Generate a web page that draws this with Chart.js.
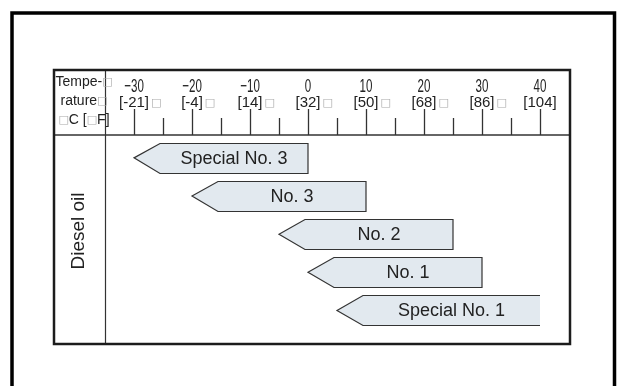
<!DOCTYPE html>
<html>
<head>
<meta charset="utf-8">
<script src="https://cdn.jsdelivr.net/npm/chart.js@4"></script>
<style>
  html, body { margin: 0; padding: 0; background: #fff; }
  #wrap { width: 617px; height: 386px; position: relative; }
</style>
</head>
<body>
<div id="wrap"><canvas id="fuelChart"></canvas></div>
<script>
// Diesel oil grades and the temperature range (°C) each one covers
const grades = ['Special No. 3', 'No. 3', 'No. 2', 'No. 1', 'Special No. 1'];
const rangeStart = [-30, -20, -5, 0, 5];
const rangeEnd = [0, 10, 25, 30, 40];

// header scale
const celsiusTicks = [-30, -20, -10, 0, 10, 20, 30, 40];
const fahrenheitLabels = ['[-21]', '[-4]', '[14]', '[32]', '[50]', '[68]', '[86]', '[104]'];
const minorTicks = [-25, -15, -5, 5, 15, 25, 35];
const headerLines = ['Tempe-□', 'rature□', '□C [□F]'];
const rowTitle = 'Diesel oil';

const TEXT = '#222';
const FONT = '"Liberation Sans", Arial, sans-serif';

// draws text where the □ boxes are shown grey, centred on cx
function drawMixed(ctx, text, cx, y, size) {
    const parts = text.split(/(□)/).filter(p => p.length);
    const fontFor = p => p === '□' ? (size - 3) + 'px "DejaVu Sans"' : size + 'px ' + FONT;
    let total = 0;
    parts.forEach(p => { ctx.font = fontFor(p); total += ctx.measureText(p).width; });
    let x = cx - total / 2;
    ctx.textAlign = 'left';
    parts.forEach(p => {
        ctx.font = fontFor(p);
        ctx.fillStyle = p === '□' ? '#aaa' : TEXT;
        ctx.fillText(p, x, y);
        x += ctx.measureText(p).width;
    });
}

function line(ctx, x1, y1, x2, y2) {
    ctx.beginPath();
    ctx.moveTo(x1, y1);
    ctx.lineTo(x2, y2);
    ctx.stroke();
}

const frameBox = {
    id: 'frameBox',
    beforeDraw(chart) {
        const { ctx, chartArea: a, scales: { x } } = chart;
        const boxLeft = a.left - 51, boxTop = a.top - 65;
        ctx.save();
        ctx.fillStyle = '#fff';
        ctx.fillRect(0, 0, chart.width, chart.height);

        // outer frame, open at the bottom
        ctx.strokeStyle = '#000';
        ctx.lineWidth = 3.5;
        ctx.beginPath();
        ctx.moveTo(12, chart.height + 5);
        ctx.lineTo(12, 13);
        ctx.lineTo(614.5, 13);
        ctx.lineTo(614.5, chart.height + 5);
        ctx.stroke();

        // table lines
        ctx.strokeStyle = '#333';
        ctx.lineWidth = 1.2;
        line(ctx, a.left + 0.5, boxTop, a.left + 0.5, a.bottom);
        ctx.lineWidth = 1.5;
        line(ctx, boxLeft, a.top, a.right, a.top);

        ctx.lineWidth = 1.3;
        celsiusTicks.forEach(v => {
            const px = Math.round(x.getPixelForValue(v)) + 0.5;
            line(ctx, px, a.top - 26, px, a.top);
        });
        minorTicks.forEach(v => {
            const px = Math.round(x.getPixelForValue(v)) + 0.5;
            line(ctx, px, a.top - 17, px, a.top);
        });

        ctx.lineWidth = 2.5;
        ctx.strokeStyle = '#1c1c1c';
        ctx.strokeRect(boxLeft, boxTop, a.right + 1 - boxLeft, a.bottom - boxTop);

        // tick labels: °C in a narrow face, °F in brackets below
        ctx.textBaseline = 'middle';
        celsiusTicks.forEach((v, i) => {
            const px = x.getPixelForValue(v);
            ctx.save();
            ctx.translate(px, a.top - 48);
            ctx.scale(0.68, 1.08);
            ctx.font = '17px ' + FONT;
            ctx.fillStyle = TEXT;
            ctx.textAlign = 'center';
            ctx.fillText(String(v).replace('-', '\u2212'), 0, 0);
            ctx.restore();

            const lab = fahrenheitLabels[i];
            ctx.font = '15px ' + FONT;
            ctx.textAlign = 'center';
            ctx.fillStyle = TEXT;
            ctx.fillText(lab, px, a.top - 32);
            if (i < celsiusTicks.length - 1) {
                const w = ctx.measureText(lab).width;
                ctx.font = '11px "DejaVu Sans"';
                ctx.fillStyle = '#aaa';
                ctx.textAlign = 'left';
                ctx.fillText('□', px + w / 2 + 2, a.top - 32);
            }
        });

        headerLines.forEach((t, i) => drawMixed(ctx, t, boxLeft + 30, boxTop + 12 + i * 19, 14));

        // row title
        ctx.save();
        ctx.translate((boxLeft + a.left) / 2 - 1, 231);
        ctx.rotate(-Math.PI / 2);
        ctx.font = '19px ' + FONT;
        ctx.fillStyle = TEXT;
        ctx.textAlign = 'center';
        ctx.fillText(rowTitle, 0, 0);
        ctx.restore();
        ctx.restore();
    },
    afterDatasetsDraw(chart) {
        const { ctx } = chart;
        const head = 26;
        const lastTick = celsiusTicks[celsiusTicks.length - 1];
        ctx.save();
        chart.getDatasetMeta(0).data.forEach((bar, i) => {
            const p = bar.getProps(['x', 'base', 'y', 'height'], true);
            // Chart.js may swap base/x on floating bars, so sort them
            const start = Math.min(p.x, p.base), end = Math.max(p.x, p.base);
            const y = p.y;
            const t = Math.round(y - p.height / 2) + 0.5, b = Math.round(y + p.height / 2) + 0.5;
            ctx.beginPath();
            ctx.moveTo(end, t);
            ctx.lineTo(start + head, t);
            ctx.lineTo(start, y);
            ctx.lineTo(start + head, b);
            ctx.lineTo(end, b);
            // the warmest grade runs on past the scale, so its right end is left open
            if (rangeEnd[i] < lastTick) ctx.closePath();
            ctx.fillStyle = '#e2e9ef';
            ctx.fill();
            ctx.strokeStyle = '#333';
            ctx.lineWidth = 1.2;
            ctx.stroke();

            ctx.font = '18px ' + FONT;
            ctx.fillStyle = TEXT;
            ctx.textAlign = 'center';
            ctx.textBaseline = 'middle';
            ctx.fillText(grades[i], (start + head + end) / 2, y + 1);
        });
        ctx.restore();
    }
};

new Chart(document.getElementById('fuelChart'), {
    type: 'bar',
    data: {
        datasets: [{
            label: rowTitle,
            data: grades.map((g, i) => ({ x: [rangeStart[i], rangeEnd[i]], y: i })),
            backgroundColor: 'rgba(0,0,0,0)',
            borderWidth: 0,
            barThickness: 30
        }]
    },
    options: {
        indexAxis: 'y',
        responsive: true,
        maintainAspectRatio: false,
        animation: false,
        layout: { padding: { left: 105, right: 48, top: 135, bottom: 42 } },
        plugins: {
            legend: { display: false },
            tooltip: { enabled: false }
        },
        scales: {
            x: { type: 'linear', min: -35, max: 45, display: false },
            y: { type: 'linear', min: -0.6, max: 4.88, reverse: true, offset: false, display: false }
        }
    },
    plugins: [frameBox]
});
</script>
</body>
</html>
